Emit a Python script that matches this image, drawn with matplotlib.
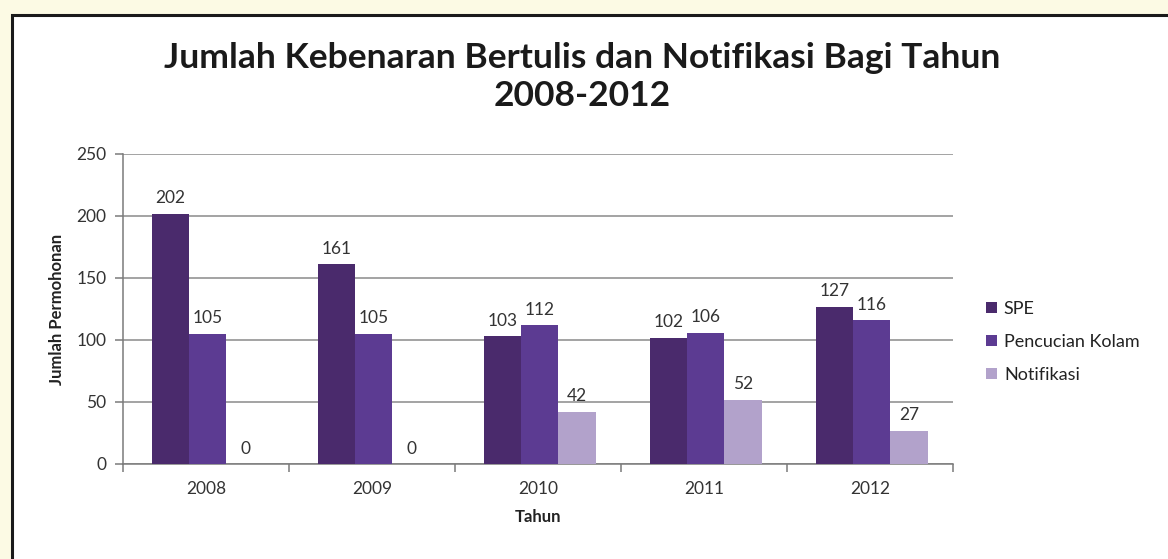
import matplotlib
matplotlib.use('Agg')
import matplotlib.pyplot as plt
from matplotlib.patches import Rectangle
import numpy as np

years = ['2008', '2009', '2010', '2011', '2012']
spe = [202, 161, 103, 102, 127]
pencucian = [105, 105, 112, 106, 116]
notifikasi = [0, 0, 42, 52, 27]
series_names = ['SPE', 'Pencucian Kolam', 'Notifikasi']
colors = ['#4a2a6c', '#5c3b92', '#b2a2cb']

plt.rcParams['font.family'] = ['Lato', 'DejaVu Sans']

fig = plt.figure(figsize=(11.68, 5.59), dpi=100)
fig.patch.set_facecolor('#fcfae4')
# white chart panel with dark border, drawn behind the axes
panel = Rectangle((12 / 1168, -0.1), 1.2, 1.1 - 15 / 559,
                  transform=fig.transFigure, facecolor='white',
                  edgecolor='#1a1a1a', linewidth=2.2, zorder=-5)
fig.patches.append(panel)

ax = fig.add_axes([123 / 1168, 1 - 464 / 559, (953 - 123) / 1168, (464 - 154) / 559])
ax.set_zorder(1)
ax.set_facecolor('white')

x = np.arange(len(years))
w = 0.225
for i, (vals, name, c) in enumerate(zip([spe, pencucian, notifikasi], series_names, colors)):
    pos = x + (i - 1) * w + 0.01
    bars = ax.bar(pos, vals, w, color=c, label=name, zorder=3)
    for b, v in zip(bars, vals):
        ax.text(b.get_x() + b.get_width() / 2, v + 6, str(v), ha='center', va='bottom',
                fontsize=12.5, color='#333333')

ax.set_xlim(-0.5, len(years) - 0.5)
ax.set_ylim(0, 250)
ax.set_yticks(range(0, 251, 50))
ax.yaxis.grid(True, color='#8a8a8a', linewidth=1.1, zorder=0)
ax.set_axisbelow(True)

ax.set_xticks(x)
ax.set_xticklabels(years, fontsize=12.5, color='#333333')
ax.set_xticks(np.arange(-0.5, len(years)), minor=True)
ax.tick_params(axis='x', which='major', length=0, pad=12)
ax.tick_params(axis='x', which='minor', length=6, color='#7a7a7a', width=1.1)
ax.tick_params(axis='y', length=6, color='#7a7a7a', width=1.1, labelsize=12.5,
               labelcolor='#333333', pad=6)

for s in ['top', 'right']:
    ax.spines[s].set_visible(False)
for s in ['left', 'bottom']:
    ax.spines[s].set_color('#7a7a7a')
    ax.spines[s].set_linewidth(1.1)

ax.set_ylabel('Jumlah Permohonan', fontsize=12, fontweight='bold', color='#222222', labelpad=8)
ax.set_xlabel('Tahun', fontsize=12, fontweight='bold', color='#222222', labelpad=9)

fig.text(582 / 1168, 1 - 77 / 559, 'Jumlah Kebenaran Bertulis dan Notifikasi Bagi Tahun\n2008-2012',
         ha='center', va='center', fontsize=25.5, fontweight='bold', color='#1a1a1a',
         linespacing=1.25)

leg = ax.legend(loc='center left', bbox_to_anchor=(1.02, 0.394), frameon=False,
                fontsize=13, handlelength=0.6, handleheight=0.6, handletextpad=0.4,
                labelspacing=0.95)
for t in leg.get_texts():
    t.set_color('#222222')

fig.savefig('out.png', dpi=100, facecolor=fig.get_facecolor())
